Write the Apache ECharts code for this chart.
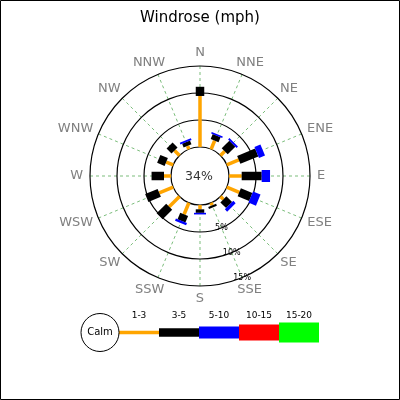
<!DOCTYPE html>
<html><head><meta charset="utf-8">
<script src="https://cdn.jsdelivr.net/npm/echarts@6/dist/echarts.min.js"></script>
<style>html,body{margin:0;padding:0;background:#fff}#c{width:400px;height:400px}</style>
</head><body><div id="c"></div>
<script>
// ---- data ----
const directions = ['N','NNE','NE','ENE','E','ESE','SE','SSE','S','SSW','SW','WSW','W','WNW','NW','NNW'];
const speedBins = ['1-3','3-5','5-10','10-15','15-20'];
const binColors = ['#FFA500','#000000','#0000FF','#FF0000','#00FF00'];
const pct_1_3   = [9.45, 1.7, 1.1, 2.4, 2.35, 2.5, 0.75, 0.5, 0.8, 2.3, 2.7, 2.8, 1.3, 1.4, 1.3, 0.65];
const pct_3_5   = [1.7, 1.0, 2.0, 3.6, 3.7, 2.3, 1.5, 0.4, 0.65, 1.3, 2.5, 2.5, 2.3, 1.5, 1.3, 0.75];
const pct_5_10  = [0, 0.3, 0.35, 1.2, 1.55, 1.5, 0.6, 0, 0.3, 0.45, 0, 0, 0, 0, 0, 0.35];
const pct_10_15 = [0, 0, 0, 0, 0, 0, 0, 0, 0, 0, 0, 0, 0, 0, 0, 0];
const pct_15_20 = [0, 0, 0, 0, 0, 0, 0, 0, 0, 0, 0, 0, 0, 0, 0, 0];
const ringValues = [0, 5, 10, 15];
const ringLabels = ['', '5%', '10%', '15%'];
const calmPercent = 34;
const radiusMax = 15;
const title = 'Windrose (mph)';

// ---- style / layout ----
const binWidths = [3.5, 8.5, 12, 16, 20];
const CX = 200, CY = 176;
const labelDirIndex = 7; // ring labels drawn along SSE
const step = 360 / directions.length;
const dirLabelRadius = 16.3;
const dirFont = '13px "DejaVu Sans"';

const binValues = [pct_1_3, pct_3_5, pct_5_10, pct_10_15, pct_15_20];

function angleOf(i) {
  return ((i - labelDirIndex + directions.length) % directions.length) * step;
}

const series = [];

// rings (calm circle + percentage rings)
series.push({
  type: 'custom', coordinateSystem: 'polar', polarIndex: 0, silent: true, clip: false, z: 3,
  data: ringValues.map((v) => [v, 0]),
  renderItem: function (params, api) {
    const p = api.coord([api.value(0), 0]);
    const r = Math.hypot(p[0] - CX, p[1] - CY);
    return {
      type: 'circle',
      shape: { cx: CX, cy: CY, r: r },
      style: { fill: 'none', stroke: '#000', lineWidth: 1.2 }
    };
  }
});

// radial dashed guide lines
series.push({
  type: 'custom', coordinateSystem: 'polar', polarIndex: 0, silent: true, clip: false, z: 2,
  data: directions.map((d, i) => [0, angleOf(i), radiusMax]),
  renderItem: function (params, api) {
    const a = api.value(1);
    const p0 = api.coord([api.value(0), a]);
    const p1 = api.coord([api.value(2), a]);
    return {
      type: 'line',
      shape: { x1: p0[0], y1: p0[1], x2: p1[0], y2: p1[1] },
      style: { stroke: 'rgba(0,128,0,0.65)', lineWidth: 0.8, lineDash: [3, 3] }
    };
  }
});

// ring labels along SSE
series.push({
  type: 'custom', coordinateSystem: 'polar', polarIndex: 0, silent: true, clip: false, z: 7,
  data: ringValues.map((v, j) => [v, angleOf(labelDirIndex), j]),
  renderItem: function (params, api) {
    const p = api.coord([api.value(0), api.value(1)]);
    return {
      type: 'text', x: p[0], y: p[1],
      style: { text: ringLabels[api.value(2)], fill: '#000', font: '8px "DejaVu Sans"', align: 'center', verticalAlign: 'middle' }
    };
  }
});

// stacked wind bars
const cumulative = directions.map(() => 0);
binValues.forEach((vals, k) => {
  const data = [];
  vals.forEach((v, i) => {
    const base = cumulative[i];
    const top = base + v;
    cumulative[i] = top;
    if (v > 0) data.push([base, angleOf(i), top]);
  });
  series.push({
    type: 'custom', name: speedBins[k], coordinateSystem: 'polar', polarIndex: 0,
    silent: true, clip: false, z: 5,
    data: data,
    renderItem: function (params, api) {
      const a = api.value(1);
      const p0 = api.coord([api.value(0), a]);
      const p1 = api.coord([api.value(2), a]);
      return {
        type: 'line',
        shape: { x1: p0[0], y1: p0[1], x2: p1[0], y2: p1[1] },
        style: { stroke: binColors[k], lineWidth: binWidths[k], lineCap: 'butt' }
      };
    }
  });
});

// direction labels
const measureCtx = document.createElement('canvas').getContext('2d');
measureCtx.font = dirFont;
series.push({
  type: 'custom', coordinateSystem: 'polar', polarIndex: 0, silent: true, clip: false, z: 6,
  data: directions.map((d, i) => [dirLabelRadius, angleOf(i), i]),
  renderItem: function (params, api) {
    const i = api.value(2);
    const name = directions[i];
    const p = api.coord([api.value(0), api.value(1)]);
    const th = i * step * Math.PI / 180;
    const w = measureCtx.measureText(name).width;
    const h = 12;
    return {
      type: 'text',
      x: p[0] + w / 2 * Math.sin(th),
      y: p[1] - h / 2 * Math.cos(th),
      style: { text: name, fill: '#808080', font: dirFont, align: 'center', verticalAlign: 'middle' }
    };
  }
});

// legend graphics
const legend = [];
const LX = 100, LY = 332.5, LR = 19, SEG = 40;
speedBins.forEach((b, k) => {
  const x1 = LX + LR + k * SEG;
  legend.push({
    type: 'line', z: 10,
    shape: { x1: x1, y1: LY, x2: x1 + SEG, y2: LY },
    style: { stroke: binColors[k], lineWidth: binWidths[k], lineCap: 'butt' }
  });
  legend.push({
    type: 'text', z: 11, x: x1 + SEG / 2, y: LY - 17,
    style: { text: b, fill: '#000', font: '9px "DejaVu Sans"', align: 'center', verticalAlign: 'middle' }
  });
});
legend.push({
  type: 'circle', z: 12, shape: { cx: LX, cy: LY, r: LR },
  style: { fill: '#fff', stroke: '#000', lineWidth: 1 }
});
legend.push({
  type: 'text', z: 13, x: LX, y: LY,
  style: { text: 'Calm', fill: '#000', font: '10px "DejaVu Sans"', align: 'center', verticalAlign: 'middle' }
});
legend.push({
  type: 'text', z: 13, x: CX - 1, y: CY + 1,
  style: { text: calmPercent + '%', fill: '#333', font: '12.5px "DejaVu Sans"', align: 'center', verticalAlign: 'middle' }
});
legend.push({
  type: 'rect', z: 0, shape: { x: 0.5, y: 0.5, width: 399, height: 399 },
  style: { fill: 'none', stroke: '#000', lineWidth: 1 }
});

const chart = echarts.init(document.getElementById('c'), null, { renderer: 'canvas' });
chart.setOption({
  animation: false,
  backgroundColor: '#fff',
  title: {
    text: title, left: 'center', top: 6,
    textStyle: { fontFamily: 'DejaVu Sans', fontSize: 15, fontWeight: 'normal', color: '#000' }
  },
  polar: { center: [CX, CY], radius: [29, 110] },
  angleAxis: {
    type: 'value', min: 0, max: 360, interval: step,
    startAngle: 90 - labelDirIndex * step, clockwise: true,
    show: false,
    axisLine: { show: false }, axisTick: { show: false },
    axisLabel: { show: false }, splitLine: { show: false }
  },
  radiusAxis: {
    type: 'value', min: 0, max: radiusMax, interval: 5,
    show: false,
    axisLine: { show: false }, axisTick: { show: false },
    axisLabel: { show: false }, splitLine: { show: false }
  },
  graphic: legend,
  series: series
});
</script>
</body></html>
